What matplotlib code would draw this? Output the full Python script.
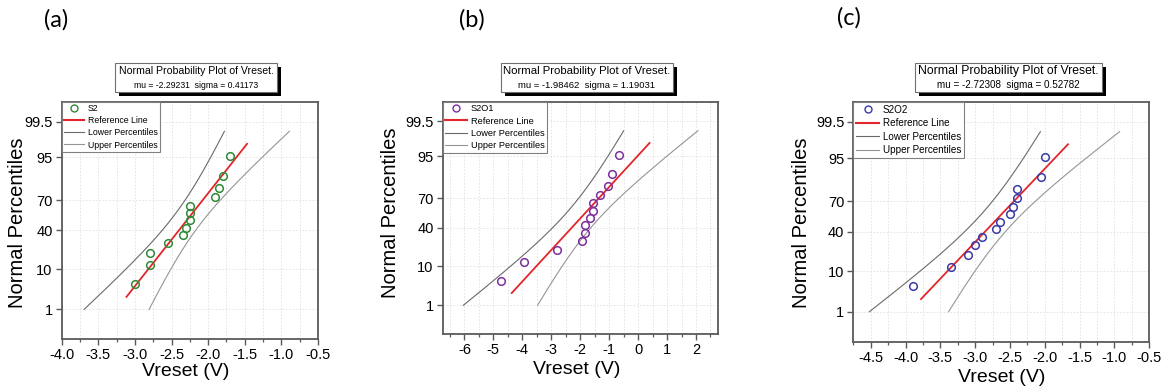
import matplotlib
matplotlib.use("Agg")
import numpy as np
import matplotlib.pyplot as plt
from matplotlib.lines import Line2D
from matplotlib.patches import Rectangle
from matplotlib.ticker import MultipleLocator, FixedLocator, NullLocator, FormatStrFormatter
from statistics import NormalDist

# Vreset samples (V) for each device
vreset_s2 = [-3.0, -2.8, -2.8, -2.55, -2.35, -2.3, -2.25, -2.25, -2.25, -1.9, -1.85, -1.8, -1.7]
vreset_s2o1 = [-4.75, -3.95, -2.8, -1.95, -1.85, -1.85, -1.65, -1.55, -1.55, -1.3, -1.05, -0.9, -0.65]
vreset_s2o2 = [-3.9, -3.35, -3.1, -3.0, -2.9, -2.7, -2.65, -2.5, -2.45, -2.4, -2.4, -2.05, -2.0]
series_names = ["S2", "S2O1", "S2O2"]
panel_tags = ["(a)", "(b)", "(c)"]
percentile_ticks = [1, 10, 40, 70, 95, 99.5]

plt.rcParams["font.family"] = ["Liberation Sans", "DejaVu Sans"]
plt.rcParams["axes.unicode_minus"] = False

W, H = 1169, 390
fig = plt.figure(figsize=(W / 100, H / 100), dpi=100)

nd = NormalDist()
probit = np.vectorize(nd.inv_cdf)


def fx(x):
    return x / W


def fy(y):
    return 1 - y / H


# layout in pixels: (left, top, right, bottom)
axes_px = [(61.7, 101.7, 318, 339), (442.7, 101.7, 717.7, 334.3), (853.3, 101.7, 1149.3, 341.7)]
xlims = [(-4.0, -0.5), (-6.75, 2.75), (-4.75, -0.5)]
x_major = [0.5, 1.0, 0.5]
x_minor = [0.25, 0.5, 0.25]
x_fmt = ["%.1f", "%d", "%.1f"]
marker_colors = ["#2f8a35", "#7d2f9e", "#3a3aa6"]
title_boxes = [(115, 277), (501, 673), (915, 1102)]
title_fs = [(7.6, 6.2), (8.2, 6.8), (8.8, 7.1)]
legend_fs = [6.3, 6.7, 7.1]
xlabel_pos = [(186, 371), (577, 370), (1001.7, 377)]
ylabel_pos = [(17.5, 223), (390.5, 213), (801.7, 222.5)]
tag_pos = [(56, 20), (472, 20), (849, 18)]

red = "#e3262b"
lower_col = "#6a6a6a"
upper_col = "#959595"
spine_col = "#5a5a5a"

datasets = [vreset_s2, vreset_s2o1, vreset_s2o2]

for i, data in enumerate(datasets):
    l, t, r, b = axes_px[i]
    ax = fig.add_axes([fx(l), fy(b), (r - l) / W, (b - t) / H])

    x = np.sort(np.asarray(data, dtype=float))
    n = len(x)
    pp = (np.arange(1, n + 1) - 0.375) / (n + 0.25)
    zpts = probit(pp)
    mu = x.mean()
    sd = x.std(ddof=1)

    # percentile confidence bands (1% .. 99%)
    zb = np.linspace(nd.inv_cdf(0.01), nd.inv_cdf(0.99), 200)
    half = 1.96 * sd * np.sqrt(1.0 / n + zb ** 2 / (2 * (n - 1)))
    ax.plot(mu + sd * zb - half, zb, color=lower_col, lw=0.8, zorder=2)
    ax.plot(mu + sd * zb + half, zb, color=upper_col, lw=0.8, zorder=2)

    # fitted reference line
    zr = np.array([-2.0, 2.0])
    ax.plot(mu + sd * zr, zr, color=red, lw=1.3, zorder=3)

    ax.plot(x, zpts, "o", ls="none", mfc="none", mec=marker_colors[i], ms=5.5, mew=1.1, zorder=4)

    ax.set_xlim(*xlims[i])
    ax.set_ylim(-3.1, 3.1)
    ax.xaxis.set_major_locator(MultipleLocator(x_major[i]))
    ax.xaxis.set_minor_locator(MultipleLocator(x_minor[i]))
    ax.xaxis.set_major_formatter(FormatStrFormatter(x_fmt[i]))
    ax.yaxis.set_major_locator(FixedLocator(probit(np.array(percentile_ticks) / 100.0)))
    ax.set_yticklabels([f"{p:g}" for p in percentile_ticks])
    ax.yaxis.set_minor_locator(NullLocator())

    ax.set_axisbelow(True)
    ax.grid(which="both", axis="x", color="#e0e0e0", lw=0.6, ls=(0, (2, 2)))
    ax.grid(which="major", axis="y", color="#e0e0e0", lw=0.6, ls=(0, (2, 2)))

    ax.tick_params(which="major", direction="out", length=4.5, width=1.0, color=spine_col,
                   labelsize=10.5, pad=2)
    ax.tick_params(which="minor", direction="out", length=2.5, width=0.9, color=spine_col)
    for s in ax.spines.values():
        s.set_color(spine_col)
        s.set_linewidth(1.3)

    handles = [
        Line2D([], [], marker="o", ls="none", mfc="none", mec=marker_colors[i], ms=5, mew=1.0),
        Line2D([], [], color=red, lw=1.5),
        Line2D([], [], color=lower_col, lw=0.8),
        Line2D([], [], color=upper_col, lw=0.8),
    ]
    labels = [series_names[i], "Reference Line", "Lower Percentiles", "Upper Percentiles"]
    leg = ax.legend(handles, labels, loc="upper left", borderaxespad=0, fancybox=False,
                    framealpha=1, edgecolor="#808080", fontsize=legend_fs[i], handlelength=2.3,
                    handletextpad=0.4, labelspacing=0.35, borderpad=0.3)
    leg.get_frame().set_linewidth(0.8)

    # title box with drop shadow
    bx0, bx1 = title_boxes[i]
    by0, by1 = 63, 92
    shadow = Rectangle((fx(bx0 + 4), fy(by1 + 4)), (bx1 - bx0) / W, (by1 - by0) / H,
                       transform=fig.transFigure, facecolor="black", edgecolor="none")
    box = Rectangle((fx(bx0), fy(by1)), (bx1 - bx0) / W, (by1 - by0) / H,
                    transform=fig.transFigure, facecolor="white", edgecolor="#707070", lw=0.8)
    fig.add_artist(shadow)
    fig.add_artist(box)
    cx = (bx0 + bx1) / 2
    fig.text(fx(cx), fy(71), "Normal Probability Plot of Vreset.", ha="center", va="center",
             fontsize=title_fs[i][0])
    fig.text(fx(cx), fy(85), f"mu = {mu:.5f}  sigma = {sd:.5f}", ha="center", va="center",
             fontsize=title_fs[i][1])

    fig.text(fx(xlabel_pos[i][0]), fy(xlabel_pos[i][1]), "Vreset (V)", ha="center", va="center",
             fontsize=14)
    fig.text(fx(ylabel_pos[i][0]), fy(ylabel_pos[i][1]), "Normal Percentiles", ha="center",
             va="center", rotation=90, fontsize=14.5)
    fig.text(fx(tag_pos[i][0]), fy(tag_pos[i][1]), panel_tags[i], ha="center", va="center",
             fontsize=17, family=["Lato", "DejaVu Sans"])

fig.savefig("out.png", dpi=100, facecolor="white")
